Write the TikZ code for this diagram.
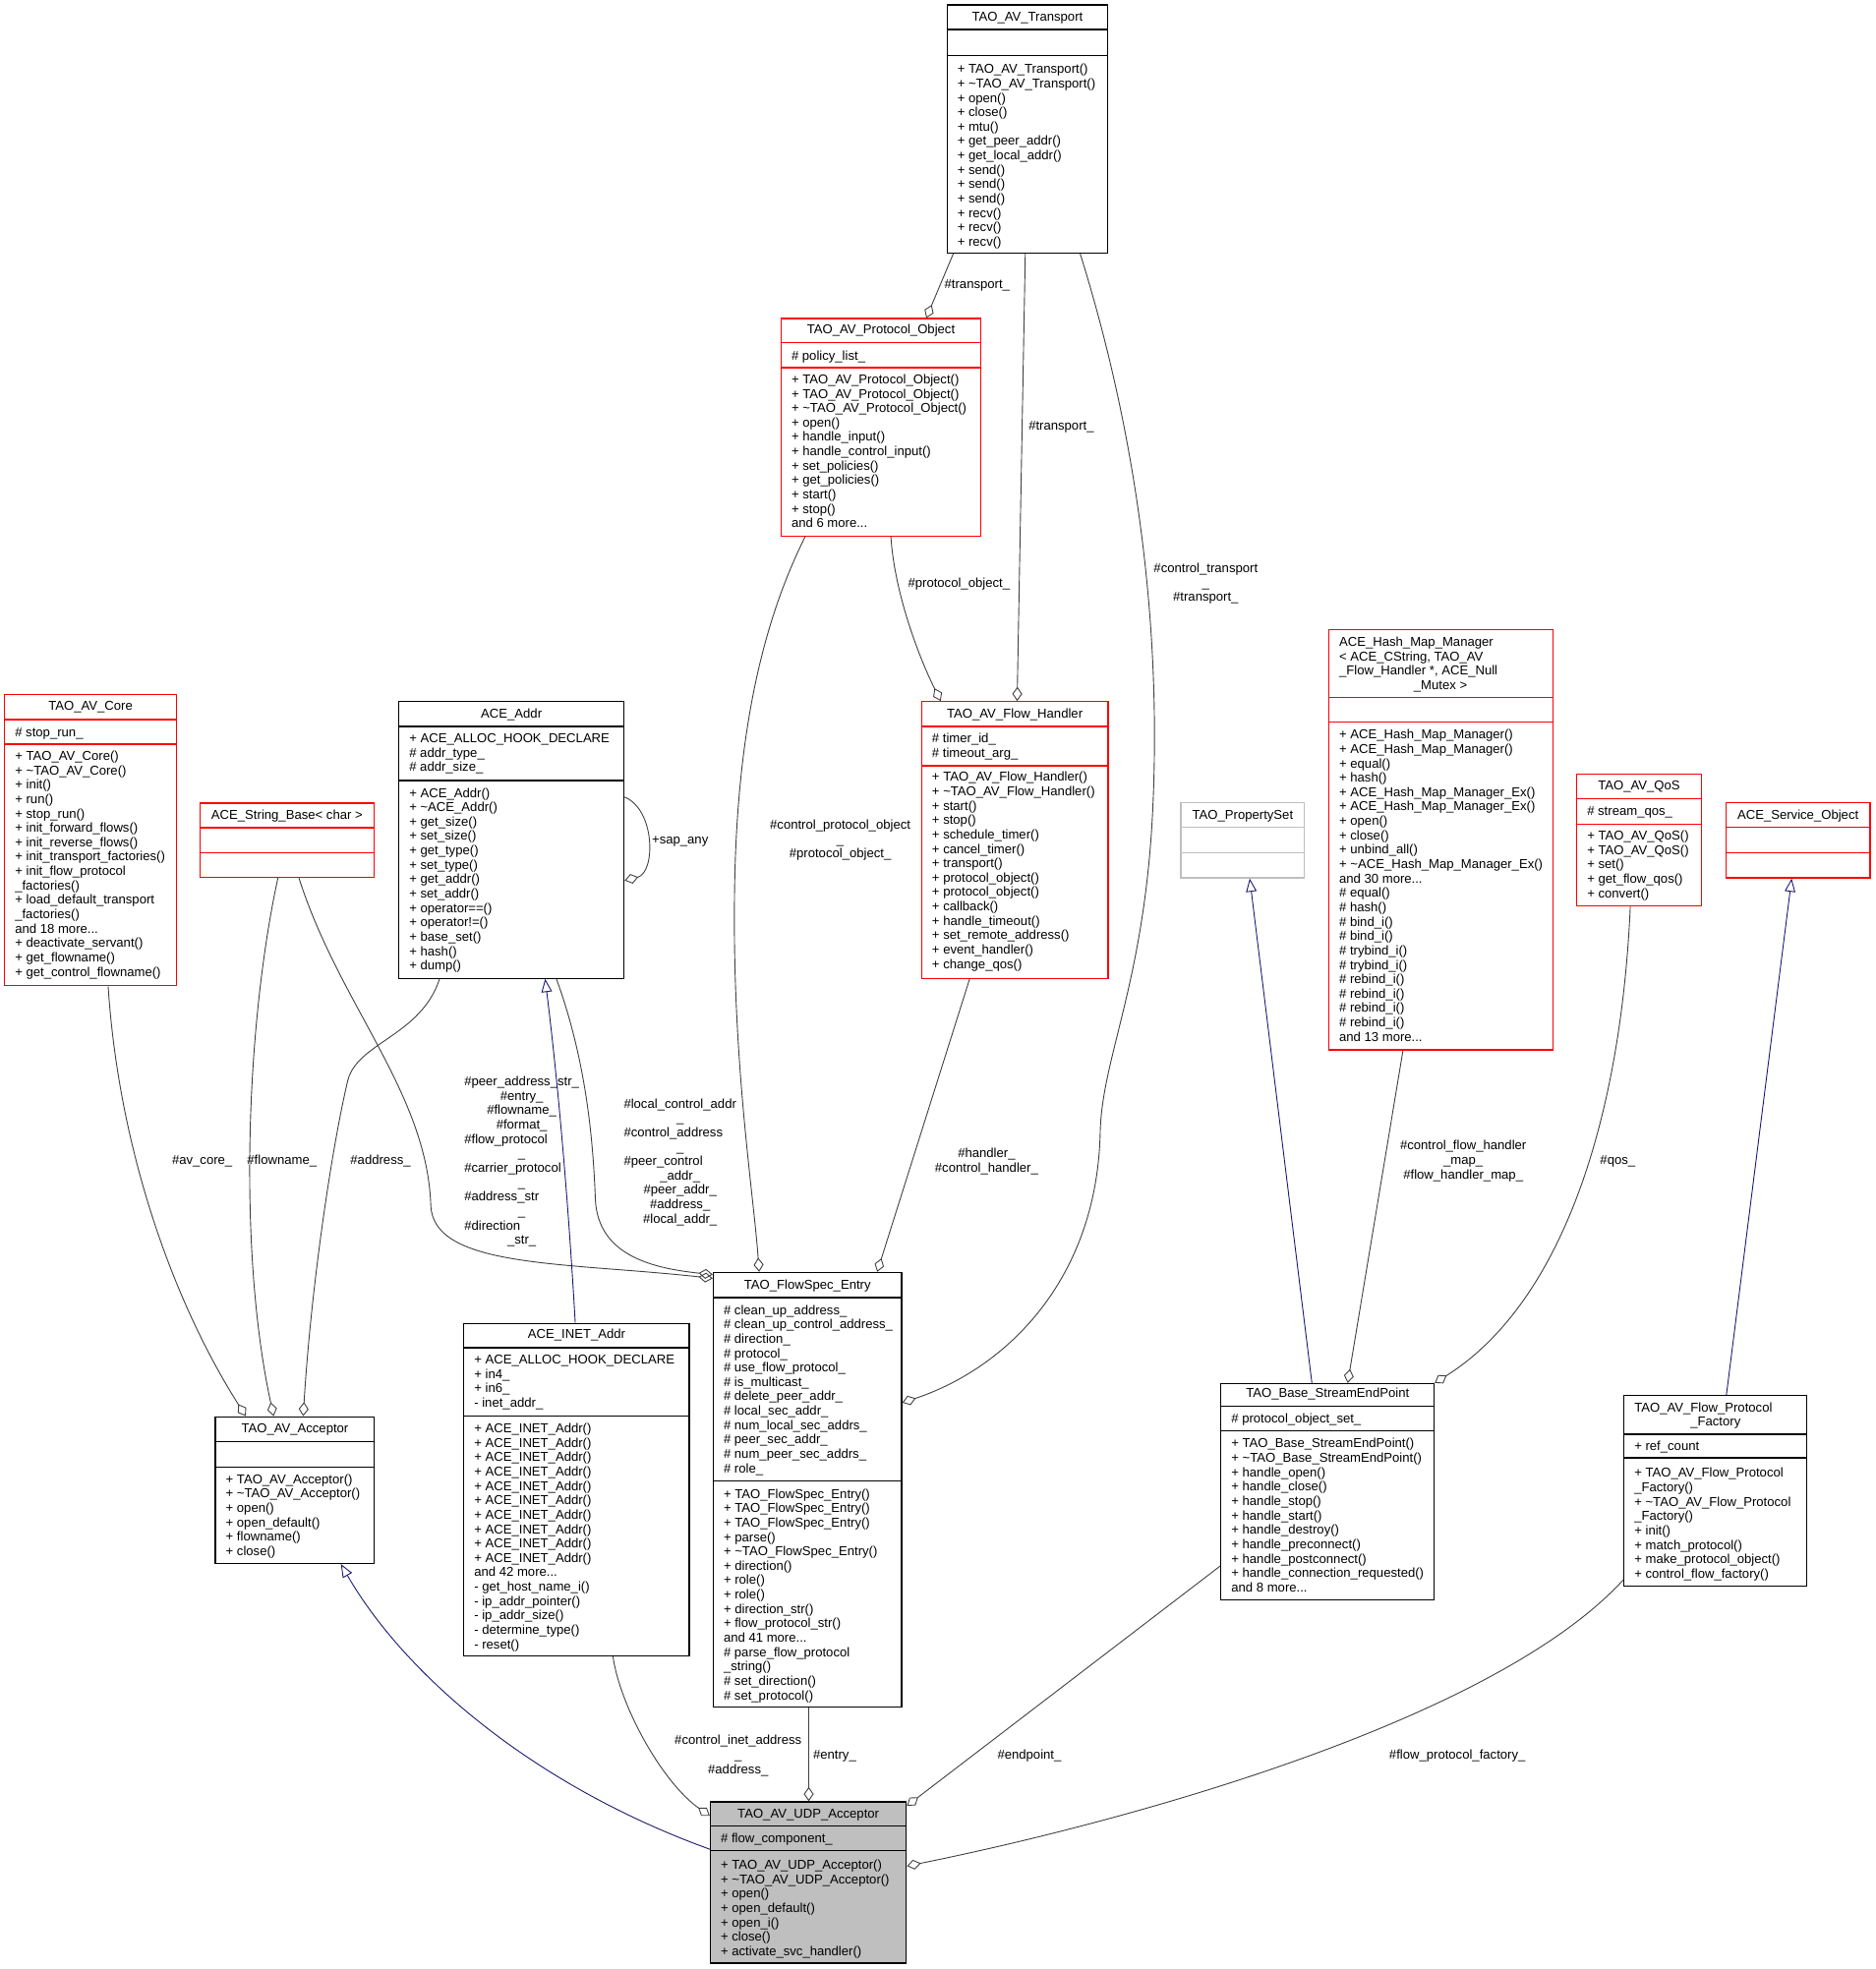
\documentclass[tikz,border=0pt]{standalone}
\usepackage{fontspec}
\setmainfont{Liberation Sans}
\usetikzlibrary{arrows.meta, fit}

\definecolor{edgegray}{HTML}{404040}
\definecolor{inhblue}{HTML}{191970}
\definecolor{boxred}{HTML}{FF0000}
\definecolor{boxgray}{HTML}{BFBFBF}

\begin{document}
\begin{tikzpicture}[x=0.025cm, y=-0.025cm,
    every node/.style={font=\fontsize{7.3}{8.15}\selectfont},
    cls/.style={draw=black, line width=0.7pt, inner sep=0pt},
    clsred/.style={cls, draw=boxred},
    clsgray/.style={cls, draw=boxgray},
    ttl/.style={anchor=base, inner sep=0pt},
    mem/.style={anchor=north west, inner sep=0pt, align=left},
    lbl/.style={inner sep=0pt, align=center},
    agg/.style={draw=edgegray, line width=0.5pt, -{Diamond[open, length=8pt, width=5.6pt]}},
    inh/.style={draw=inhblue, line width=0.5pt, -{Triangle[open, length=7.5pt, width=6pt]}}]

\useasboundingbox (0,0) rectangle (1493,1568);

\node[cls, fit={(754,3.9) (882,201.5)}] (transport) {};
\draw[line width=0.7pt] (transport.west |- 0,23.5) -- (transport.east |- 0,23.5)
    (transport.west |- 0,44.4) -- (transport.east |- 0,44.4);
\node[ttl] at (818,16.6) {TAO\_AV\_Transport};
\node[mem] at (762,50.2) {\strut+ TAO\_AV\_Transport()\\+ \textasciitilde TAO\_AV\_Transport()\\+ open()\\+ close()\\+ mtu()\\+ get\_peer\_addr()\\+ get\_local\_addr()\\+ send()\\+ send()\\+ send()\\+ recv()\\+ recv()\\+ recv()};

\node[clsred, fit={(621.9,253.7) (780.8,426.9)}] (protobj) {};
\draw[boxred, line width=0.7pt] (protobj.west |- 0,272.7) -- (protobj.east |- 0,272.7)
    (protobj.west |- 0,292.8) -- (protobj.east |- 0,292.8);
\node[ttl] at (701.4,265.5) {TAO\_AV\_Protocol\_Object};
\node[mem] at (629.9,278.3) {\strut\# policy\_list\_};
\node[mem] at (629.9,297.3) {\strut+ TAO\_AV\_Protocol\_Object()\\+ TAO\_AV\_Protocol\_Object()\\+ \textasciitilde TAO\_AV\_Protocol\_Object()\\+ open()\\+ handle\_input()\\+ handle\_control\_input()\\+ set\_policies()\\+ get\_policies()\\+ start()\\+ stop()\\and 6 more...};

\node[clsred, fit={(3.7,553.3) (140.4,785)}] (core) {};
\draw[boxred, line width=0.7pt] (core.west |- 0,573.1) -- (core.east |- 0,573.1)
    (core.west |- 0,592.6) -- (core.east |- 0,592.6);
\node[ttl] at (72.05,565.6) {TAO\_AV\_Core};
\node[mem] at (11.7,578.4) {\strut\# stop\_run\_};
\node[mem] at (11.7,597.2) {\strut+ TAO\_AV\_Core()\\+ \textasciitilde TAO\_AV\_Core()\\+ init()\\+ run()\\+ stop\_run()\\+ init\_forward\_flows()\\+ init\_reverse\_flows()\\+ init\_transport\_factories()\\+ init\_flow\_protocol\\\_factories()\\+ load\_default\_transport\\\_factories()\\and 18 more...\\+ deactivate\_servant()\\+ get\_flowname()\\+ get\_control\_flowname()};

\node[clsred, fit={(159.2,639.6) (297.8,698.6)}] (strbase) {};
\draw[boxred, line width=0.7pt] (strbase.west |- 0,659.2) -- (strbase.east |- 0,659.2)
    (strbase.west |- 0,679) -- (strbase.east |- 0,679);
\node[ttl] at (228.5,652.2) {ACE\_String\_Base< char >};

\node[cls, fit={(317.6,558.7) (496.8,779)}] (addr) {};
\draw[line width=0.7pt] (addr.west |- 0,578.5) -- (addr.east |- 0,578.5)
    (addr.west |- 0,621.6) -- (addr.east |- 0,621.6);
\node[ttl] at (407.2,571.6) {ACE\_Addr};
\node[mem] at (325.6,583.1) {\strut+ ACE\_ALLOC\_HOOK\_DECLARE\\\# addr\_type\_\\\# addr\_size\_};
\node[mem] at (325.6,626.6) {\strut+ ACE\_Addr()\\+ \textasciitilde ACE\_Addr()\\+ get\_size()\\+ set\_size()\\+ get\_type()\\+ set\_type()\\+ get\_addr()\\+ set\_addr()\\+ operator==()\\+ operator!=()\\+ base\_set()\\+ hash()\\+ dump()};

\node[clsred, fit={(733.8,558.7) (882.3,779)}] (flowhandler) {};
\draw[boxred, line width=0.7pt] (flowhandler.west |- 0,578.5) -- (flowhandler.east |- 0,578.5)
    (flowhandler.west |- 0,609.9) -- (flowhandler.east |- 0,609.9);
\node[ttl] at (808,571.5) {TAO\_AV\_Flow\_Handler};
\node[mem] at (741.8,583.1) {\strut\# timer\_id\_\\\# timeout\_arg\_};
\node[mem] at (741.8,613.9) {\strut+ TAO\_AV\_Flow\_Handler()\\+ \textasciitilde TAO\_AV\_Flow\_Handler()\\+ start()\\+ stop()\\+ schedule\_timer()\\+ cancel\_timer()\\+ transport()\\+ protocol\_object()\\+ protocol\_object()\\+ callback()\\+ handle\_timeout()\\+ set\_remote\_address()\\+ event\_handler()\\+ change\_qos()};

\node[clsred, fit={(1057.8,501.3) (1236.3,836.1)}] (hashmap) {};
\draw[boxred, line width=0.7pt] (hashmap.west |- 0,555.6) -- (hashmap.east |- 0,555.6)
    (hashmap.west |- 0,575.2) -- (hashmap.east |- 0,575.2);
\node[mem] at (1066,506.4) {\strut ACE\_Hash\_Map\_Manager\\< ACE\_CString, TAO\_AV\\\_Flow\_Handler *, ACE\_Null\\\makebox[4.03cm][c]{\_Mutex >}};
\node[mem] at (1066,580.2) {\strut+ ACE\_Hash\_Map\_Manager()\\+ ACE\_Hash\_Map\_Manager()\\+ equal()\\+ hash()\\+ ACE\_Hash\_Map\_Manager\_Ex()\\+ ACE\_Hash\_Map\_Manager\_Ex()\\+ open()\\+ close()\\+ unbind\_all()\\+ \textasciitilde ACE\_Hash\_Map\_Manager\_Ex()\\and 30 more...\\\# equal()\\\# hash()\\\# bind\_i()\\\# bind\_i()\\\# trybind\_i()\\\# trybind\_i()\\\# rebind\_i()\\\# rebind\_i()\\\# rebind\_i()\\\# rebind\_i()\\and 13 more...};

\node[clsgray, fit={(940.1,639.3) (1038.6,699.1)}] (propset) {};
\draw[boxgray, line width=0.7pt] (propset.west |- 0,659) -- (propset.east |- 0,659)
    (propset.west |- 0,679) -- (propset.east |- 0,679);
\node[ttl] at (989.4,652.5) {TAO\_PropertySet};

\node[clsred, fit={(1255.4,616.4) (1354.6,721.6)}] (qos) {};
\draw[boxred, line width=0.7pt] (qos.west |- 0,636) -- (qos.east |- 0,636)
    (qos.west |- 0,656.3) -- (qos.east |- 0,656.3);
\node[ttl] at (1305,629) {TAO\_AV\_QoS};
\node[mem] at (1263.4,641) {\strut\# stream\_qos\_};
\node[mem] at (1263.4,660.6) {\strut+ TAO\_AV\_QoS()\\+ TAO\_AV\_QoS()\\+ set()\\+ get\_flow\_qos()\\+ convert()};

\node[clsred, fit={(1374,639.3) (1489,699.1)}] (svcobj) {};
\draw[boxred, line width=0.7pt] (svcobj.west |- 0,659) -- (svcobj.east |- 0,659)
    (svcobj.west |- 0,679) -- (svcobj.east |- 0,679);
\node[ttl] at (1431.5,652.5) {ACE\_Service\_Object};

\node[cls, fit={(171.5,1128.2) (298,1245)}] (acceptor) {};
\draw[line width=0.7pt] (acceptor.west |- 0,1148.2) -- (acceptor.east |- 0,1148.2)
    (acceptor.west |- 0,1168.1) -- (acceptor.east |- 0,1168.1);
\node[ttl] at (234.8,1140.8) {TAO\_AV\_Acceptor};
\node[mem] at (179.5,1173.1) {\strut+ TAO\_AV\_Acceptor()\\+ \textasciitilde TAO\_AV\_Acceptor()\\+ open()\\+ open\_default()\\+ flowname()\\+ close()};

\node[cls, fit={(369.3,1053.8) (548.8,1318.6)}] (inetaddr) {};
\draw[line width=0.7pt] (inetaddr.west |- 0,1073.3) -- (inetaddr.east |- 0,1073.3)
    (inetaddr.west |- 0,1127.6) -- (inetaddr.east |- 0,1127.6);
\node[ttl] at (459.1,1065.9) {ACE\_INET\_Addr};
\node[mem] at (377.3,1077.9) {\strut+ ACE\_ALLOC\_HOOK\_DECLARE\\+ in4\_\\+ in6\_\\- inet\_addr\_};
\node[mem] at (377.3,1132.7) {\strut+ ACE\_INET\_Addr()\\+ ACE\_INET\_Addr()\\+ ACE\_INET\_Addr()\\+ ACE\_INET\_Addr()\\+ ACE\_INET\_Addr()\\+ ACE\_INET\_Addr()\\+ ACE\_INET\_Addr()\\+ ACE\_INET\_Addr()\\+ ACE\_INET\_Addr()\\+ ACE\_INET\_Addr()\\and 42 more...\\- get\_host\_name\_i()\\- ip\_addr\_pointer()\\- ip\_addr\_size()\\- determine\_type()\\- reset()};

\node[cls, fit={(567.9,1013.3) (717.9,1359.6)}] (flowspec) {};
\draw[line width=0.7pt] (flowspec.west |- 0,1033.4) -- (flowspec.east |- 0,1033.4)
    (flowspec.west |- 0,1179.5) -- (flowspec.east |- 0,1179.5);
\node[ttl] at (642.9,1027) {TAO\_FlowSpec\_Entry};
\node[mem] at (575.9,1038.4) {\strut\# clean\_up\_address\_\\\# clean\_up\_control\_address\_\\\# direction\_\\\# protocol\_\\\# use\_flow\_protocol\_\\\# is\_multicast\_\\\# delete\_peer\_addr\_\\\# local\_sec\_addr\_\\\# num\_local\_sec\_addrs\_\\\# peer\_sec\_addr\_\\\# num\_peer\_sec\_addrs\_\\\# role\_};
\node[mem] at (575.9,1184.8) {\strut+ TAO\_FlowSpec\_Entry()\\+ TAO\_FlowSpec\_Entry()\\+ TAO\_FlowSpec\_Entry()\\+ parse()\\+ \textasciitilde TAO\_FlowSpec\_Entry()\\+ direction()\\+ role()\\+ role()\\+ direction\_str()\\+ flow\_protocol\_str()\\and 41 more...\\\# parse\_flow\_protocol\\\_string()\\\# set\_direction()\\\# set\_protocol()};

\node[cls, fit={(972.1,1101.8) (1141.8,1274)}] (endpoint) {};
\draw[line width=0.7pt] (endpoint.west |- 0,1119.8) -- (endpoint.east |- 0,1119.8)
    (endpoint.west |- 0,1139.4) -- (endpoint.east |- 0,1139.4);
\node[ttl] at (1057,1112.8) {TAO\_Base\_StreamEndPoint};
\node[mem] at (980.1,1125.1) {\strut\# protocol\_object\_set\_};
\node[mem] at (980.1,1144.7) {\strut+ TAO\_Base\_StreamEndPoint()\\+ \textasciitilde TAO\_Base\_StreamEndPoint()\\+ handle\_open()\\+ handle\_close()\\+ handle\_stop()\\+ handle\_start()\\+ handle\_destroy()\\+ handle\_preconnect()\\+ handle\_postconnect()\\+ handle\_connection\_requested()\\and 8 more...};

\node[cls, fit={(1293,1111.4) (1438.2,1262.8)}] (factory) {};
\draw[line width=0.7pt] (factory.west |- 0,1142.2) -- (factory.east |- 0,1142.2)
    (factory.west |- 0,1161) -- (factory.east |- 0,1161);
\node[mem] at (1301,1116) {\strut TAO\_AV\_Flow\_Protocol\\\makebox[3.23cm][c]{\_Factory}};
\node[mem] at (1301,1146.8) {\strut+ ref\_count};
\node[mem] at (1301,1168.2) {\strut+ TAO\_AV\_Flow\_Protocol\\\_Factory()\\+ \textasciitilde TAO\_AV\_Flow\_Protocol\\\_Factory()\\+ init()\\+ match\_protocol()\\+ make\_protocol\_object()\\+ control\_flow\_factory()};

\node[cls, fill=boxgray, fit={(565.6,1434.8) (721.6,1563.2)}] (udp) {};
\draw[line width=0.7pt] (udp.west |- 0,1454.3) -- (udp.east |- 0,1454.3)
    (udp.west |- 0,1473.9) -- (udp.east |- 0,1473.9);
\node[ttl] at (643.6,1447.9) {TAO\_AV\_UDP\_Acceptor};
\node[mem] at (573.6,1459.4) {\strut\# flow\_component\_};
\node[mem] at (573.6,1480.3) {\strut+ TAO\_AV\_UDP\_Acceptor()\\+ \textasciitilde TAO\_AV\_UDP\_Acceptor()\\+ open()\\+ open\_default()\\+ open\_i()\\+ close()\\+ activate\_svc\_handler()};

% members
\draw[agg] (759,0 |- transport.south) -- (737.5,0 |- protobj.north);
\draw[agg] (816.3,0 |- transport.south) -- (809.8,0 |- flowhandler.north);
\draw[agg] (860,0 |- transport.south) .. controls (900,330) and (925,480) .. (918,640)
    .. controls (912,780) and (878,840) .. (876,900)
    .. controls (874,1020) and (800,1090) .. (flowspec.east |- 0,1117);
\draw[agg] (709.3,0 |- protobj.south) .. controls (712,470) and (730,520) .. (749,0 |- flowhandler.north);
\draw[agg] (641,0 |- protobj.south) .. controls (615,480) and (588,560) .. (585,700)
    .. controls (582,840) and (600,950) .. (604.4,0 |- flowspec.north);
\draw[agg] (772,0 |- flowhandler.south) -- (698.4,0 |- flowspec.north);
\draw[agg] (addr.east |- 0,634.7) .. controls (522,645) and (522,695) .. (addr.east |- 0,701.2);
\draw[agg] (350,0 |- addr.south) .. controls (335,825) and (285,830) .. (277,860)
    .. controls (265,910) and (248,1020) .. (241.4,0 |- acceptor.north);
\draw[agg] (443,0 |- addr.south) .. controls (465,840) and (472,900) .. (474,955)
    .. controls (476,1000) and (520,1010) .. (flowspec.west |- 0,1015);
\draw[agg] (221.3,0 |- strbase.south) .. controls (195,820) and (190,1000) .. (217.9,0 |- acceptor.north);
\draw[agg] (238,0 |- strbase.south) .. controls (270,800) and (340,870) .. (343,960)
    .. controls (345,1010) and (450,1005) .. (flowspec.west |- 0,1018);
\draw[agg] (86.1,0 |- core.south) .. controls (95,920) and (140,1040) .. (195.7,0 |- acceptor.north);
\draw[agg] (1117,0 |- hashmap.south) -- (1073,0 |- endpoint.north);
\draw[agg] (1298,0 |- qos.south) .. controls (1290,900) and (1240,1040) .. (endpoint.north east);
\draw[agg] (488,0 |- inetaddr.south) .. controls (494,1360) and (528,1420) .. (udp.west |- 0,1446);
\draw[agg] (643.9,0 |- flowspec.south) -- (643.9,0 |- udp.north);
\draw[agg] (endpoint.west |- 0,1247) -- (udp.east |- 0,1438);
\draw[agg] (factory.west |- 0,1258) .. controls (1190,1370) and (900,1450) .. (udp.east |- 0,1486);

% inheritance
\draw[inh] (458,0 |- inetaddr.north) .. controls (452,950) and (444,860) .. (434,0 |- addr.south);
\draw[inh] (1044.5,0 |- endpoint.north) -- (995,0 |- propset.south);
\draw[inh] (1374.5,0 |- factory.north) -- (1426.5,0 |- svcobj.south);
\draw[inh] (udp.west |- 0,1472.6) .. controls (420,1420) and (320,1330) .. (271.4,0 |- acceptor.south);

% labels
\node[lbl, anchor=base] at (778,229.5) {\#transport\_};
\node[lbl, anchor=base] at (845,342.5) {\#transport\_};
\node[lbl, anchor=north] at (960,447.6) {\strut\#control\_transport\\\_\\\#transport\_};
\node[lbl, anchor=base] at (763.5,467.4) {\#protocol\_object\_};
\node[lbl, anchor=north] at (669,651.9) {\strut\#control\_protocol\_object\\\_\\\#protocol\_object\_};
\node[lbl, anchor=north] at (785.5,913.4) {\strut\#handler\_\\\#control\_handler\_};
\node[lbl, anchor=base] at (541.5,672.4) {+sap\_any};
\node[lbl, anchor=base] at (303,927.4) {\#address\_};
\node[lbl, anchor=base] at (224.5,927.4) {\#flowname\_};
\node[lbl, anchor=base] at (161,927.4) {\#av\_core\_};
\node[inner sep=0pt, anchor=north] at (415.4,856.4) {\begin{tabular}{@{}c@{}}\#peer\_address\_str\_\\ \#entry\_\\ \#flowname\_\\ \#format\_\\
    \multicolumn{1}{@{}l@{}}{\#flow\_protocol}\\ \_\\
    \multicolumn{1}{@{}l@{}}{\#carrier\_protocol}\\ \_\\
    \multicolumn{1}{@{}l@{}}{\#address\_str}\\ \_\\
    \multicolumn{1}{@{}l@{}}{\#direction}\\ \_str\_\end{tabular}};
\node[inner sep=0pt, anchor=north] at (541.5,874) {\begin{tabular}{@{}c@{}}\#local\_control\_addr\\ \_\\
    \multicolumn{1}{@{}l@{}}{\#control\_address}\\ \_\\
    \multicolumn{1}{@{}l@{}}{\#peer\_control}\\ \_addr\_\\ \#peer\_addr\_\\ \#address\_\\ \#local\_addr\_\end{tabular}};
\node[lbl, anchor=north] at (1165,907.4) {\strut\#control\_flow\_handler\\\_map\_\\\#flow\_handler\_map\_};
\node[lbl, anchor=base] at (1288,927.4) {\#qos\_};
\node[lbl, anchor=north] at (587.7,1381.1) {\strut\#control\_inet\_address\\\_\\\#address\_};
\node[lbl, anchor=base] at (664.6,1400.9) {\#entry\_};
\node[lbl, anchor=base] at (819.6,1400.9) {\#endpoint\_};
\node[lbl, anchor=base] at (1160.3,1400.9) {\#flow\_protocol\_factory\_};
\end{tikzpicture}
\end{document}
